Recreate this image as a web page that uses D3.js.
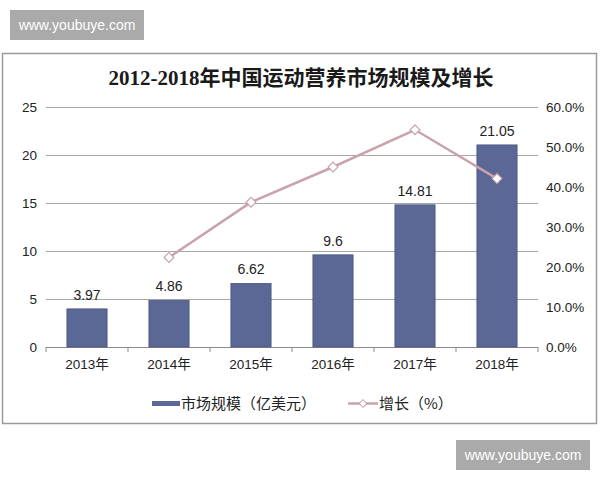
<!DOCTYPE html>
<html>
<head>
<meta charset="utf-8">
<script src="https://cdn.jsdelivr.net/npm/d3@7"></script>
<style>
  body { margin: 0; background: #fff; }
  svg { display: block; }
</style>
</head>
<body>
<div id="chart"></div>
<script>
// data
var categories = ["2013年", "2014年", "2015年", "2016年", "2017年", "2018年"];
var marketSize = [3.97, 4.86, 6.62, 9.6, 14.81, 21.05];
var growth = [null, 22.4, 36.2, 45.0, 54.3, 42.1];
var leftTicks = [0, 5, 10, 15, 20, 25];
var rightTicks = [0, 10, 20, 30, 40, 50, 60];

var title = "2012-2018年中国运动营养市场规模及增长";
var legendBar = "市场规模（亿美元）";
var legendLine = "增长（%）";
var watermark = "www.youbuye.com";

var width = 600;
var height = 480;
var barColor = "#5b6795";
var lineColor = "#c9a3ac";
var gridColor = "#a8a8a8";
var sansFont = "'Liberation Sans', Arial, 'Noto Sans CJK SC', sans-serif";

var svg = d3.select("#chart")
  .append("svg")
  .attr("width", width)
  .attr("height", height);

/* watermarks */
function addWatermark(x, y) {
  svg.append("rect")
    .attr("x", x).attr("y", y)
    .attr("width", 134).attr("height", 30)
    .attr("fill", "#aaaaaa");
  svg.append("text")
    .attr("x", x + 67).attr("y", y + 20)
    .attr("text-anchor", "middle")
    .attr("fill", "#fff")
    .style("font-family", sansFont)
    .style("font-size", "14px")
    .text(watermark);
}
addWatermark(10, 10);
addWatermark(456, 440);

/* frame */
svg.append("rect")
  .attr("x", 2.5).attr("y", 53.5)
  .attr("width", 594).attr("height", 370)
  .attr("fill", "#fff")
  .attr("stroke", "#9a9a9a")
  .attr("stroke-width", 1.5);

svg.append("text")
  .attr("x", 301).attr("y", 85)
  .attr("text-anchor", "middle")
  .attr("fill", "#1a1a1a")
  .style("font-family", "'Liberation Serif', 'Noto Sans CJK SC', serif")
  .style("font-size", "21px")
  .style("font-weight", "bold")
  .text(title);

/* scales */
var x = d3.scaleBand()
  .domain(categories)
  .range([46, 538])
  .paddingInner(0.51)
  .paddingOuter(0.255);

var yLeft = d3.scaleLinear().domain([0, 25]).range([347, 107]);
var yRight = d3.scaleLinear().domain([0, 60]).range([347, 107]);

/* gridlines */
svg.append("g")
  .selectAll("line")
  .data(leftTicks)
  .enter()
  .append("line")
  .attr("x1", x.range()[0])
  .attr("x2", x.range()[1])
  .attr("y1", (d) => yLeft(d) + 0.5)
  .attr("y2", (d) => yLeft(d) + 0.5)
  .attr("stroke", (d) => d === 0 ? "#8c8c8c" : gridColor)
  .attr("stroke-width", 1);

/* x tick marks on category boundaries */
var edges = categories.map((c) => x(c) + x.bandwidth() / 2 - x.step() / 2);
edges.push(x.range()[1]);
svg.append("g")
  .selectAll("line")
  .data(edges)
  .enter()
  .append("line")
  .attr("x1", (d) => d).attr("x2", (d) => d)
  .attr("y1", yLeft(0)).attr("y2", yLeft(0) + 5)
  .attr("stroke", "#8c8c8c");

/* axes labels */
var axisText = svg.append("g")
  .style("font-family", sansFont)
  .style("font-size", "13.5px")
  .attr("fill", "#222");

axisText.selectAll(".ly")
  .data(leftTicks)
  .enter()
  .append("text")
  .attr("x", 37)
  .attr("y", (d) => yLeft(d) + 5)
  .attr("text-anchor", "end")
  .text((d) => d);

axisText.selectAll(".ry")
  .data(rightTicks)
  .enter()
  .append("text")
  .attr("x", 546)
  .attr("y", (d) => yRight(d) + 5)
  .text((d) => d.toFixed(1) + "%");

axisText.selectAll(".cx")
  .data(categories)
  .enter()
  .append("text")
  .attr("x", (d) => x(d) + x.bandwidth() / 2)
  .attr("y", 369)
  .attr("text-anchor", "middle")
  .text((d) => d);

/* bars */
svg.append("g")
  .selectAll("rect")
  .data(marketSize)
  .enter()
  .append("rect")
  .attr("x", (d, i) => x(categories[i]))
  .attr("y", (d) => yLeft(d))
  .attr("width", x.bandwidth())
  .attr("height", (d) => yLeft(0) - yLeft(d))
  .attr("fill", barColor)
  .attr("stroke", "#4a5580")
  .attr("stroke-width", 0.8);

svg.append("g")
  .style("font-family", sansFont)
  .style("font-size", "14px")
  .attr("fill", "#222")
  .selectAll("text")
  .data(marketSize)
  .enter()
  .append("text")
  .attr("x", (d, i) => x(categories[i]) + x.bandwidth() / 2)
  .attr("y", (d) => yLeft(d) - 9)
  .attr("text-anchor", "middle")
  .text((d) => d);

/* growth line */
var line = d3.line()
  .defined((d) => d != null)
  .x((d, i) => x(categories[i]) + x.bandwidth() / 2)
  .y((d) => yRight(d));

svg.append("path")
  .attr("d", line(growth))
  .attr("fill", "none")
  .attr("stroke", lineColor)
  .attr("stroke-width", 2.5);

var diamond = d3.symbol().type(d3.symbolSquare).size(48);
svg.append("g")
  .selectAll("path")
  .data(growth.map((d, i) => ({ v: d, c: categories[i] })).filter((d) => d.v != null))
  .enter()
  .append("path")
  .attr("d", diamond)
  .attr("transform", (d) => `translate(${x(d.c) + x.bandwidth() / 2}, ${yRight(d.v)}) rotate(45)`)
  .attr("fill", "#fff")
  .attr("stroke", lineColor)
  .attr("stroke-width", 1.2);

/* legend */
var legend = svg.append("g")
  .style("font-family", "'Noto Sans CJK SC', sans-serif")
  .style("font-size", "15px")
  .attr("fill", "#222");

legend.append("rect")
  .attr("x", 152).attr("y", 401)
  .attr("width", 28).attr("height", 5)
  .attr("fill", barColor);
legend.append("text")
  .attr("x", 181).attr("y", 409)
  .text(legendBar);

legend.append("line")
  .attr("x1", 348).attr("x2", 378)
  .attr("y1", 403.5).attr("y2", 403.5)
  .attr("stroke", lineColor)
  .attr("stroke-width", 2.5);
legend.append("path")
  .attr("d", d3.symbol().type(d3.symbolSquare).size(30))
  .attr("transform", "translate(363, 403.5) rotate(45)")
  .attr("fill", "#fff")
  .attr("stroke", lineColor);
legend.append("text")
  .attr("x", 379).attr("y", 409)
  .text(legendLine);
</script>
</body>
</html>
